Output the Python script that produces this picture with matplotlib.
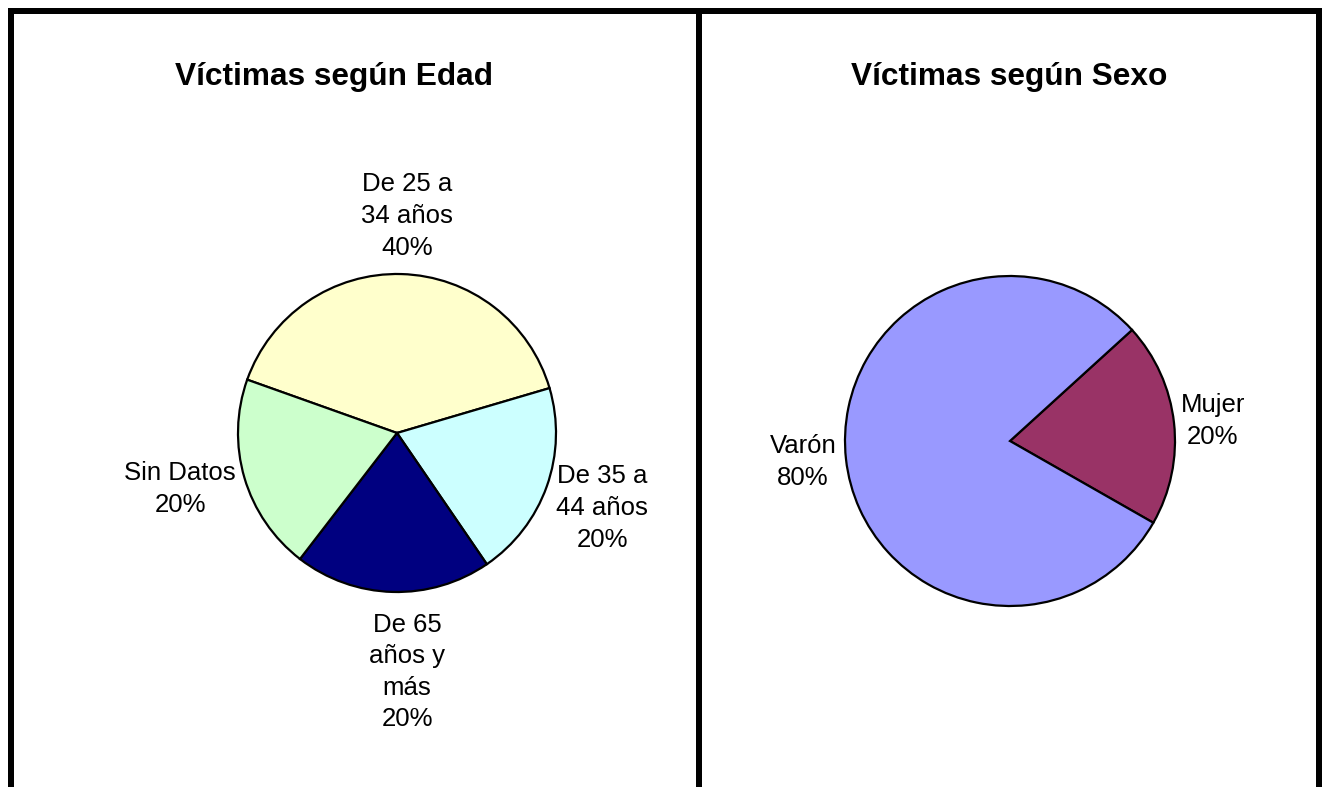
import matplotlib
matplotlib.use("Agg")
import matplotlib.pyplot as plt
from matplotlib.lines import Line2D

plt.rcParams['font.family'] = ['Liberation Sans', 'DejaVu Sans']

# Data
edad_labels = ["De 25 a\n34 años", "De 35 a\n44 años", "De 65\naños y\nmás", "Sin Datos"]
edad_values = [40, 20, 20, 20]
edad_colors = ["#FFFFCC", "#CCFFFF", "#000080", "#CCFFCC"]

sexo_labels = ["Mujer", "Varón"]
sexo_values = [20, 80]
sexo_colors = ["#993366", "#9999FF"]

W, H = 1324, 787
fig = plt.figure(figsize=(W / 100, H / 100), dpi=100)
fig.patch.set_facecolor("white")


def px_axes(cx, cy, r):
    return fig.add_axes([(cx - r) / W, (H - cy - r) / H, 2 * r / W, 2 * r / H])


def fx(x):
    return x / W


def fy(y):
    return 1 - y / H


# Left pie
ax1 = px_axes(397, 433, 159)
ax1.pie(edad_values, colors=edad_colors, startangle=160.4, counterclock=False,
        wedgeprops=dict(edgecolor="black", linewidth=1.6))
ax1.set_xlim(-1, 1)
ax1.set_ylim(-1, 1)
ax1.set_aspect("equal")
ax1.axis("off")

# label positions (pixel centers)
edad_pos = [(407, 216), (602, 508), (407, 672), (180, 489)]
tot = sum(edad_values)
for lab, v, (px, py) in zip(edad_labels, edad_values, edad_pos):
    fig.text(fx(px), fy(py), f"{lab}\n{round(100 * v / tot)}%", ha="center", va="center",
             fontsize=18.5, linespacing=1.4)

fig.text(fx(334), fy(77), "Víctimas según Edad", ha="center", va="center",
         fontsize=22.8, fontweight="bold")

# Right pie
ax2 = px_axes(1010, 441, 165)
ax2.pie(sexo_values, colors=sexo_colors, startangle=42.3, counterclock=False,
        wedgeprops=dict(edgecolor="black", linewidth=1.6))
ax2.set_xlim(-1, 1)
ax2.set_ylim(-1, 1)
ax2.set_aspect("equal")
ax2.axis("off")

sexo_pos = [(1213, 421), (803, 462)]
tot2 = sum(sexo_values)
for lab, v, (px, py) in zip(sexo_labels, sexo_values, sexo_pos):
    fig.text(fx(px), fy(py), f"{lab}\n{round(100 * v / tot2)}%", ha="center", va="center",
             fontsize=18.5, linespacing=1.4)

fig.text(fx(1009), fy(77), "Víctimas según Sexo", ha="center", va="center",
         fontsize=22.8, fontweight="bold")

# Borders
lw = 6 * 72 / 100
for (x0, y0, x1, y1) in [(8, 11, 1322, 11), (11, 8, 11, 787), (699, 8, 699, 787), (1319, 8, 1319, 787)]:
    fig.add_artist(Line2D([fx(x0), fx(x1)], [fy(y0), fy(y1)], color="black", linewidth=lw,
                          solid_capstyle="butt", transform=fig.transFigure))

fig.savefig("out.png", dpi=100, facecolor="white")
